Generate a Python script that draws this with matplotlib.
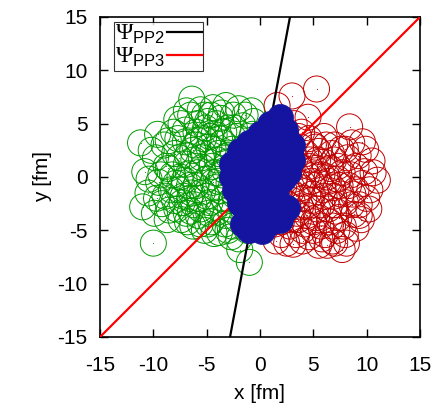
import matplotlib
matplotlib.use("Agg")
import matplotlib.pyplot as plt
from matplotlib.collections import EllipseCollection
import numpy as np

plt.rcParams['font.family'] = ['Liberation Sans', 'DejaVu Sans']
plt.rcParams['mathtext.fontset'] = 'custom'
plt.rcParams['mathtext.rm'] = 'Liberation Sans'
plt.rcParams['mathtext.sf'] = 'Liberation Serif'

# ---- data (fm) ----
green_x = [-11.2, -6.4, -10.0, -1.0, -1.9, -10.8, -10.5, -11.0, -9.8, -9.5,
           -9.2, -8.7, -9.0, -8.6, -8.3, -8.0, -8.1, -7.8, -7.5, -7.4,
           -7.2, -7.0, -6.9, -6.8, -6.6, -6.5, -6.3, -6.2, -6.0, -5.9,
           -5.8, -5.6, -5.5, -5.4, -5.3, -5.2, -5.0, -4.9, -4.8, -4.7,
           -4.6, -4.5, -4.4, -4.3, -4.2, -4.0, -3.9, -3.8, -3.7, -3.6,
           -3.5, -3.4, -3.3, -3.2, -3.1, -3.0, -2.9, -2.8, -2.7, -2.6,
           -2.5, -2.4, -2.3, -2.2, -2.1, -2.0, -1.8, -1.7, -1.6, -1.5,
           -1.4, -1.2, -1.0, -0.8, -0.6, -7.9, -8.8, -7.6, -7.3, -6.7,
           -6.4, -6.1, -5.7, -5.1, -4.8, -4.1, -3.9, -3.3, -5.9, -7.0,
           -9.9, -8.5, -10.2, -6.9, -5.6, -4.3, -3.0, -1.5, -0.7, -2.0,
           -7.7, -7.1, -6.6, -6.2, -5.8, -5.4, -5.0, -4.7, -4.4, -4.0,
           -3.7, -3.4, -3.0, -2.7, -2.4, -6.8, -7.6, -8.2, -8.9, -9.3,
           -6.0, -5.6, -4.9, -4.4, -3.8, -3.2, -2.6, -6.3, -7.4, -8.0,
           -5.2, -4.6, -3.6, -6.9, -7.8, -8.6, -9.6, -10.4, -9.7, -5.3,
           -4.2, -6.5, -2.2, -1.9, -1.3]
green_y = [3.2, 7.3, -6.2, -8.0, -6.8, 0.5, -1.5, -2.8, 1.8, -0.5,
           -2.5, -4.0, 3.0, 0.8, -1.2, 2.2, 4.2, -3.0, 0.0, 5.0,
           -1.8, 3.3, 1.2, -4.2, -0.8, 5.8, 2.5, -2.6, 4.2, 0.4,
           -3.6, 6.3, 1.8, -1.4, 3.6, -5.0, -0.2, 5.2, 2.8, -2.4,
           -4.2, 1.0, 6.5, 4.0, -1.0, -3.3, 2.2, -5.2, 5.5, 0.2,
           3.2, -2.0, -4.4, 6.7, 1.4, 4.6, -0.6, -3.0, -5.6, 2.6,
           5.8, 0.8, -1.8, 3.8, -4.0, 6.4, 1.8, -2.8, 4.8, -0.2,
           5.8, -5.0, 3.0, 6.2, 5.2, -0.6, 1.0, 1.8, -2.4, 0.3,
           -1.5, 3.0, -2.0, 4.6, -3.4, 5.0, -0.4, 0.6, 5.0, 4.4,
           -3.4, -3.1, 2.5, -3.4, -4.4, -5.3, -5.0, -3.8, 4.0, -5.8,
           3.6, -0.3, -2.0, 1.6, 3.4, 0.9, -1.8, 3.8, -0.5, 1.6,
           -1.3, 4.2, 2.0, -2.2, 4.6, 2.0, -1.2, 0.2, -1.8, 0.2,
           -0.8, -3.0, -4.4, 2.6, 3.6, -3.6, -4.6, -4.6, -4.0, -2.2,
           5.8, 5.8, 6.0, 6.2, 5.4, 3.4, 4.0, -0.2, -2.0, 2.2,
           0.4, -3.2, 1.2, -1.0, 2.4]

red_x = [3.0, 5.3, 1.6, 4.5, 3.2, 2.4, 8.4, 9.6, 7.0, 6.0,
         5.0, 3.8, 2.6, 11.0, 10.5, 10.0, 9.8, 9.2, 9.0, 8.8,
         8.5, 8.2, 8.0, 8.1, 7.0, 7.8, 7.5, 7.3, 7.1, 6.9,
         6.7, 6.5, 6.3, 6.1, 6.0, 5.8, 5.6, 5.5, 5.3, 5.2,
         5.0, 4.9, 4.7, 4.5, 4.4, 4.2, 4.0, 3.9, 3.7, 3.5,
         3.4, 3.2, 3.0, 2.8, 2.6, 2.5, 2.2, 2.0, 1.8, 1.5,
         9.5, 10.2, 8.6, 7.6, 7.2, 6.4, 6.2, 5.9, 5.4, 4.8,
         4.3, 4.1, 3.6, 3.3, 2.9, 7.7, 8.7, 9.3, 6.6, 5.7,
         4.6, 3.1, 6.8, 5.5, 10.6, 9.9, 2.4, 3.6, 1.9, 1.4,
         6.0, 5.4, 4.8, 7.0, 7.6, 8.3, 6.4, 5.1, 4.4, 3.8,
         6.8, 7.4, 8.0, 9.0, 5.8, 4.0, 3.0, 2.6, 3.4, 4.6,
         5.8, 6.9, 8.0, 9.0, 9.6, 10.3, 8.6, 7.3, 4.0, 3.0,
         2.2, 2.0, 6.3, 7.7, 9.3, 5.2, 3.9, 4.6, 6.8, 5.0]
red_y = [7.6, 8.25, 6.7, 5.6, 5.0, 4.0, 4.7, 3.3, 3.0, 3.8,
         3.0, 2.8, 2.0, -0.3, 1.5, -2.0, 0.5, 2.0, -1.2, -3.5,
         0.2, 1.8, -2.4, -6.2, -6.2, -4.6, -0.8, 1.0, -3.2, -1.8,
         2.2, -4.2, 0.0, -5.4, 1.4, -2.6, -0.6, 2.4, -3.8, 0.8,
         -5.0, -1.6, 1.6, -2.8, 0.2, -4.4, -6.0, -1.0, 1.0, -3.4,
         -5.4, -0.2, -2.2, -4.6, 0.6, -6.2, -3.2, -5.4, 1.5, -6.0,
         -4.0, -3.0, 3.2, 2.6, -5.0, -3.0, 3.0, -1.2, 1.6, -0.4,
         2.2, -2.0, -4.0, 1.8, -1.4, 0.4, -1.6, -2.6, 0.8, -4.6,
         -5.6, -6.3, -6.0, -6.4, 0.4, 2.6, 3.0, 3.8, -2.0, -4.4,
         -1.8, -3.0, -2.2, -2.6, -1.6, -0.8, -0.4, 0.2, -3.6, -2.8,
         -4.6, -3.8, -5.4, -4.8, -5.8, -5.0, -4.0, -2.6, -1.8, 1.0,
         0.2, 1.6, 2.6, 1.0, -0.6, -1.2, -2.6, -0.2, -0.6, 0.8,
         -1.0, -4.2, -6.4, -6.8, -3.6, 2.8, 4.2, 3.6, -1.0, -4.2]

blue_x = [1.9, 0.9, 2.3, 0.0, -1.0, -1.9, 1.3, 3.0, 3.0, -2.6,
          -2.6, -1.4, 0.0, 1.6, 2.6, 1.4, 0.2, -1.2, -2.3, -1.9,
          -0.4, 1.0, 1.5, 2.5, 1.4, 0.0, -1.2, -1.6, -0.5, 0.8,
          -1.0, 0.2, -0.4, 2.2, 1.9]
blue_y = [5.6, 5.0, 4.4, 4.0, 3.2, 2.4, 3.6, 3.0, 1.6, 1.2,
          0.0, 1.2, 2.4, 2.2, 0.4, 0.6, 0.6, -0.4, -1.2, -2.4,
          -1.6, -1.0, -1.8, -2.9, -3.2, -3.0, -3.4, -4.4, -4.4, -4.3,
          -5.0, -5.1, 1.8, -0.2, -4.0]

radius = 1.22
pp2_slope = 15 / 2.81
pp3_slope = 1.0
xticks = [-15, -10, -5, 0, 5, 10, 15]
yticks = [-15, -10, -5, 0, 5, 10, 15]

GREEN = '#009a00'
DRED = '#c00000'
BLUE = '#1414a0'

fig = plt.figure(figsize=(4.39, 4.08), dpi=100)
ax = fig.add_axes([100/439, 1-337/408, 320/439, 320/408])

def circles(xs, ys, face, edge, lw, z):
    ec = EllipseCollection(widths=2*radius, heights=2*radius, angles=0,
                           units='xy', offsets=np.column_stack([xs, ys]),
                           offset_transform=ax.transData,
                           facecolors=face, edgecolors=edge, linewidths=lw,
                           zorder=z)
    ax.add_collection(ec)

circles(green_x, green_y, 'none', GREEN, 0.7, 2)
ax.scatter(green_x, green_y, s=0.6, c=GREEN, linewidths=0, zorder=2)
circles(red_x, red_y, 'none', DRED, 0.7, 2)
ax.scatter(red_x, red_y, s=0.6, c=DRED, linewidths=0, zorder=2)

ax.axline((0, 0), slope=pp2_slope, color='black', lw=1.6, zorder=3,
          label=r'$\mathsf{\Psi}_{\mathrm{PP2}}$')
ax.axline((0, 0), slope=pp3_slope, color='#ff0000', lw=1.6, zorder=3,
          label=r'$\mathsf{\Psi}_{\mathrm{PP3}}$')

circles(blue_x, blue_y, BLUE, BLUE, 0.5, 4)

ax.set_xlim(-15, 15)
ax.set_ylim(-15, 15)
ax.set_xticks(xticks)
ax.set_yticks(yticks)
ax.set_xticklabels([str(t) for t in xticks])
ax.set_yticklabels([str(t) for t in yticks])
ax.tick_params(direction='in', length=6, width=1, top=True, right=True,
               labelsize=15, pad=9)
ax.tick_params(axis='x', pad=14)
for s in ax.spines.values():
    s.set_linewidth(1.2)
ax.set_xlabel('x [fm]', fontsize=15, labelpad=6)
ax.set_ylabel('y [fm]', fontsize=15, labelpad=4)

leg = ax.legend(loc='upper left', bbox_to_anchor=(0.044, 0.985),
                fontsize=17, markerfirst=False, frameon=True, fancybox=False,
                borderpad=0.05, handlelength=1.5, handletextpad=0.05,
                labelspacing=0.0, borderaxespad=0)
leg.get_frame().set_edgecolor('black')
leg.get_frame().set_linewidth(0.8)
leg.set_zorder(5)

fig.savefig('out.png', dpi=100)
